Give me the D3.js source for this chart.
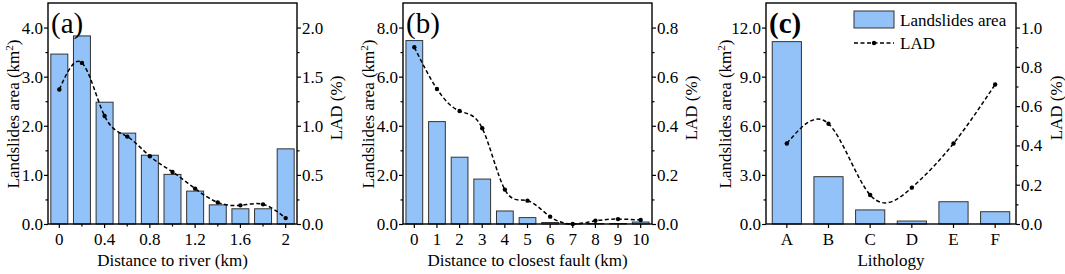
<!doctype html>
<html lang="en">
<head>
  <meta charset="utf-8">
  <title>Landslides area and LAD</title>
  <script src="https://d3js.org/d3.v7.min.js"></script>
  <style>
    body { margin: 0; background: #fff; }
    svg text { font-family: "Liberation Serif", "Times New Roman", serif; fill: #000; }
  </style>
</head>
<body>
  <div id="chart"></div>
  <script type="text/javascript">

    var width = 1065, height = 274;

    // (a) distance to river
    var riverCats = ['0','0.2','0.4','0.6','0.8','1','1.2','1.4','1.6','1.8','2'];
    var riverArea = [3.46, 3.83, 2.48, 1.85, 1.40, 1.01, 0.67, 0.39, 0.31, 0.31, 1.53];
    var riverLAD  = [1.37, 1.64, 1.10, 0.89, 0.69, 0.53, 0.36, 0.22, 0.19, 0.20, 0.06];
    var riverTicks = ['0','0.4','0.8','1.2','1.6','2'];

    // (b) distance to closest fault
    var faultCats = ['0','1','2','3','4','5','6','7','8','9','10'];
    var faultArea = [7.47, 4.17, 2.72, 1.83, 0.53, 0.26, 0.06, 0.01, 0.02, 0.02, 0.08];
    var faultLAD  = [0.72, 0.55, 0.46, 0.39, 0.14, 0.095, 0.03, 0.0, 0.013, 0.02, 0.016];

    // (c) lithology
    var lithoCats = ['A','B','C','D','E','F'];
    var lithoArea = [11.14, 2.89, 0.86, 0.18, 1.36, 0.75];
    var lithoLAD  = [0.41, 0.51, 0.148, 0.185, 0.41, 0.71];

    var barColor = '#92c2f8';
    var plotTop = 3, plotBottom = 224;

    var svg = d3.select('#chart')
                .append('svg')
                .attr('width', width)
                .attr('height', height);

    function drawPanel(p) {
      var g = svg.append('g');

      var x = d3.scaleBand().domain(p.cats).range([p.left, p.right]).padding(0);
      var yL = d3.scaleLinear().domain([0, p.leftMax]).range([plotBottom, plotTop]);
      var yR = d3.scaleLinear().domain([0, p.rightMax]).range([plotBottom, plotTop]);

      // bars
      var bw = x.bandwidth() * p.barFrac;
      g.selectAll('.bar')
        .data(p.area)
        .enter()
        .append('rect')
        .attr('class', 'bar')
        .attr('x', function(d, i) { return x(p.cats[i]) + (x.bandwidth() - bw) / 2; })
        .attr('y', function(d) { return yL(d); })
        .attr('width', bw)
        .attr('height', function(d) { return plotBottom - yL(d); })
        .attr('fill', barColor)
        .attr('stroke', '#333')
        .attr('stroke-width', 1);

      // LAD line
      var line = d3.line()
                   .x(function(d, i) { return x(p.cats[i]) + x.bandwidth() / 2; })
                   .y(function(d) { return yR(d); })
                   .curve(d3.curveNatural);

      g.append('path')
        .datum(p.lad)
        .attr('d', line)
        .attr('fill', 'none')
        .attr('stroke', '#000')
        .attr('stroke-width', 1.5)
        .attr('stroke-dasharray', '4,2.5');

      g.selectAll('.pt')
        .data(p.lad)
        .enter()
        .append('circle')
        .attr('cx', function(d, i) { return x(p.cats[i]) + x.bandwidth() / 2; })
        .attr('cy', function(d) { return yR(d); })
        .attr('r', 2.2)
        .attr('fill', '#000');

      // axes
      var axB = d3.axisBottom(x).tickValues(p.tickCats).tickSize(4).tickPadding(5);
      g.append('g').attr('transform', 'translate(0,' + plotBottom + ')').call(axB);
      if (p.minorCats) {
        g.append('g').attr('transform', 'translate(0,' + plotBottom + ')')
          .call(d3.axisBottom(x).tickValues(p.minorCats).tickSize(2.5).tickFormat(''));
      }

      var axL = d3.axisLeft(yL).tickValues(p.leftTicks).tickSize(4).tickPadding(1)
                  .tickFormat(d3.format('.1f'));
      g.append('g').attr('transform', 'translate(' + p.left + ',0)').call(axL);
      g.append('g').attr('transform', 'translate(' + p.left + ',0)')
        .call(d3.axisLeft(yL).tickValues(p.leftMinor).tickSize(2.5).tickFormat(''));

      var axR = d3.axisRight(yR).tickValues(p.rightTicks).tickSize(4).tickPadding(1)
                  .tickFormat(d3.format('.1f'));
      g.append('g').attr('transform', 'translate(' + p.right + ',0)').call(axR);
      g.append('g').attr('transform', 'translate(' + p.right + ',0)')
        .call(d3.axisRight(yR).tickValues(p.rightMinor).tickSize(2.5).tickFormat(''));

      g.selectAll('.domain').remove();
      g.selectAll('.tick line').attr('stroke', '#000').attr('stroke-width', 1.2);
      g.selectAll('.tick text').attr('font-size', 17).attr('font-family', 'Liberation Serif');

      // frame
      g.append('rect')
        .attr('x', p.left).attr('y', plotTop)
        .attr('width', p.right - p.left).attr('height', plotBottom - plotTop)
        .attr('fill', 'none').attr('stroke', '#000').attr('stroke-width', 1.4);

      // titles
      g.append('text')
        .attr('x', (p.left + p.right) / 2).attr('y', 266)
        .attr('text-anchor', 'middle').attr('font-size', 17)
        .text(p.xTitle);

      var lt = g.append('text')
        .attr('transform', 'translate(' + p.leftTitleX + ',114) rotate(-90)')
        .attr('text-anchor', 'middle').attr('font-size', 17);
      lt.append('tspan').text('Landslides area (km');
      lt.append('tspan').attr('font-size', 11).attr('dy', -6).text('2');
      lt.append('tspan').attr('dy', 6).text(')');

      g.append('text')
        .attr('transform', 'translate(' + p.rightTitleX + ',108) rotate(-90)')
        .attr('text-anchor', 'middle').attr('font-size', 17)
        .text('LAD (%)');

      g.append('text')
        .attr('x', p.left + 3).attr('y', 33)
        .attr('font-size', 29)
        .attr('font-weight', p.labelBold ? 'bold' : 'normal')
        .text(p.label);

      return g;
    }

    drawPanel({
      cats: riverCats, area: riverArea, lad: riverLAD,
      left: 48, right: 297, barFrac: 0.75,
      leftMax: 4.5, rightMax: 2.25,
      leftTicks: [0, 1, 2, 3, 4], leftMinor: [0.5, 1.5, 2.5, 3.5],
      rightTicks: [0, 0.5, 1, 1.5, 2], rightMinor: [0.25, 0.75, 1.25, 1.75],
      tickCats: riverTicks,
      minorCats: riverCats.filter(function(c) { return riverTicks.indexOf(c) < 0; }),
      xTitle: 'Distance to river (km)',
      leftTitleX: 19, rightTitleX: 342, label: '(a)'
    });

    drawPanel({
      cats: faultCats, area: faultArea, lad: faultLAD,
      left: 403, right: 652, barFrac: 0.74,
      leftMax: 9, rightMax: 0.9,
      leftTicks: [0, 2, 4, 6, 8], leftMinor: [1, 3, 5, 7],
      rightTicks: [0, 0.2, 0.4, 0.6, 0.8], rightMinor: [0.1, 0.3, 0.5, 0.7],
      tickCats: faultCats,
      xTitle: 'Distance to closest fault (km)',
      leftTitleX: 374, rightTitleX: 697, label: '(b)'
    });

    var gc = drawPanel({
      cats: lithoCats, area: lithoArea, lad: lithoLAD,
      left: 766, right: 1016, barFrac: 0.7,
      leftMax: 13.5, rightMax: 1.125,
      leftTicks: [0, 3, 6, 9, 12], leftMinor: [1.5, 4.5, 7.5, 10.5],
      rightTicks: [0, 0.2, 0.4, 0.6, 0.8, 1.0], rightMinor: [0.1, 0.3, 0.5, 0.7, 0.9],
      tickCats: lithoCats,
      xTitle: 'Lithology',
      leftTitleX: 731, rightTitleX: 1062, label: '(c)', labelBold: true
    });

    // legend in panel (c)
    gc.append('rect')
      .attr('x', 854).attr('y', 11).attr('width', 40).attr('height', 17)
      .attr('fill', barColor).attr('stroke', '#333').attr('stroke-width', 1);
    gc.append('text').attr('x', 900).attr('y', 26).attr('font-size', 17).text('Landslides area');
    gc.append('line')
      .attr('x1', 854).attr('x2', 894).attr('y1', 43).attr('y2', 43)
      .attr('stroke', '#000').attr('stroke-width', 1.5).attr('stroke-dasharray', '4,2.5');
    gc.append('circle').attr('cx', 874).attr('cy', 43).attr('r', 2.2).attr('fill', '#000');
    gc.append('text').attr('x', 900).attr('y', 49).attr('font-size', 17).text('LAD');

  </script>
</body>
</html>
